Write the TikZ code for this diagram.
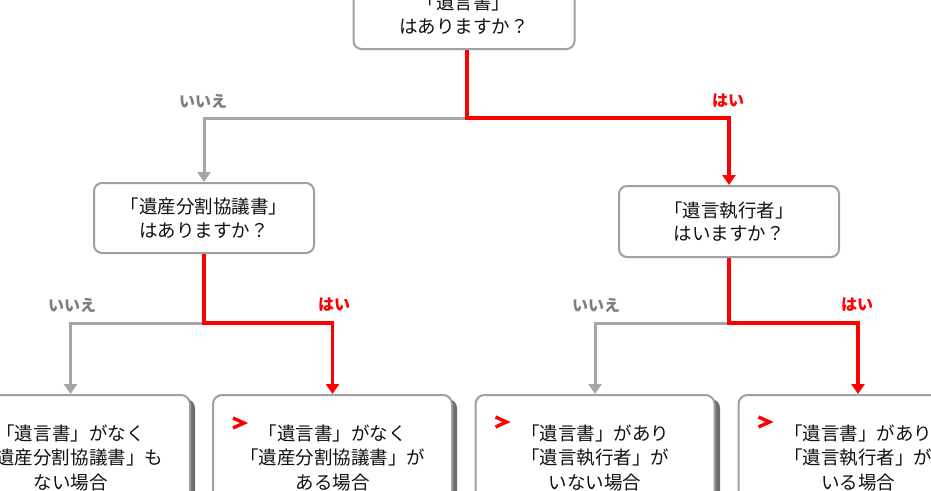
\documentclass[tikz,border=0pt]{standalone}
\usepackage{fontspec}
\setmainfont{Noto Sans CJK JP}
\usetikzlibrary{arrows.meta}
\definecolor{linegray}{HTML}{A6A6A6}
\definecolor{boxgray}{HTML}{A0A0A0}
\definecolor{labelgray}{HTML}{7F7F7F}
\definecolor{txt}{HTML}{111111}
\definecolor{shadowgray}{HTML}{6E6E6E}
\tikzset{
  qbox/.style={draw=boxgray, line width=2pt, rounded corners=8pt, fill=white,
    text=txt, align=center, inner sep=0pt, minimum width=221pt, minimum height=70pt,
    font=\fontsize{18.5}{23.5}\selectfont},
  abox/.style={draw=boxgray, line width=2pt, rounded corners=9pt, fill=white,
    text=txt, align=center, inner sep=0pt, minimum width=239pt, minimum height=125pt,
    font=\fontsize{18.5}{24.5}\selectfont},
  yesline/.style={draw=red, line width=3.2pt},
  noline/.style={draw=linegray, line width=3pt},
  arr/.style={-{Triangle[width=13pt,length=10pt]}},
  nolabel/.style={text=labelgray, font=\bfseries\fontsize{16}{16}\selectfont},
  yeslabel/.style={text=red, font=\bfseries\fontsize{16}{16}\selectfont},
  chev/.style={draw=red, line width=3.4pt, line join=miter},
}
\begin{document}
\begin{tikzpicture}[x=1pt,y=-1pt]
\useasboundingbox (0,0) rectangle (931,490);

% question boxes
\node[qbox] (q1) at (464,14) {「遺言書」\\はありますか？};
\node[qbox, minimum width=220pt] (q2) at (204,218) {「遺産分割協議書」\\はありますか？};
\node[qbox, minimum width=220pt, minimum height=71pt] (q3) at (729,221.5) {「遺言執行者」\\はいますか？};

% shadows of answer boxes
\fill[shadowgray, rounded corners=9pt] (-45,399) rectangle (195,525);
\fill[shadowgray, rounded corners=9pt] (217,399) rectangle (457,525);
\fill[shadowgray, rounded corners=9pt] (479,399) rectangle (720,525);
\fill[shadowgray, rounded corners=9pt] (742,399) rectangle (982,525);

% answer boxes
\node[abox] (a1) at (70.5,457.5) {「遺言書」がなく\\「遺産分割協議書」も\\ない場合};
\node[abox] (a2) at (332.5,457.5) {「遺言書」がなく\\「遺産分割協議書」が\\ある場合};
\node[abox] (a3) at (595,457.5) {「遺言書」があり\\「遺言執行者」が\\いない場合};
\node[abox] (a4) at (858,457.5) {「遺言書」があり\\「遺言執行者」が\\いる場合};

% chevrons
\draw[chev] ([shift={(21,24)}]a2.north west) -- ++(11,5) -- ++(-11,5);
\draw[chev] ([shift={(21,23)}]a3.north west) -- ++(11,5) -- ++(-11,5);
\draw[chev] ([shift={(21,23)}]a4.north west) -- ++(11,5) -- ++(-11,5);

% junctions
\coordinate (j1) at (467,118);
\coordinate (j2) at (204,323);
\coordinate (j3) at (729,323);

% connectors: no (gray) first
\draw[noline, arr] (j1) -| (q2.north);
\draw[noline, arr] (j2) -| (a1.north);
\draw[noline, arr] (j3) -| (a3.north);
% yes (red)
\draw[yesline, arr] (q1.south -| j1) -- (j1) -| (q3.north);
\draw[yesline, arr] (q2.south) -- (j2) -| (a2.north);
\draw[yesline, arr] (q3.south) -- (j3) -| (a4.north);

% labels
\node[nolabel] (l1) at (203,101) {いいえ};
\node[yeslabel] (l2) at (728,101) {はい};
\node[nolabel] (l3) at (72,305) {いいえ};
\node[yeslabel] (l4) at (334,305) {はい};
\node[nolabel] (l5) at (596,305) {いいえ};
\node[yeslabel] (l6) at (857,305) {はい};
\end{tikzpicture}
\end{document}
